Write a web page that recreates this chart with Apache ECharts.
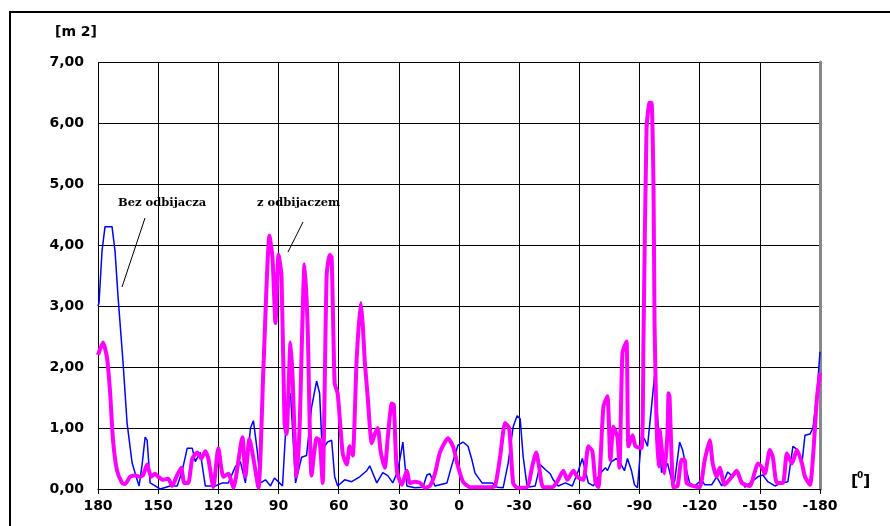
<!DOCTYPE html>
<html><head><meta charset="utf-8">
<script src="https://cdn.jsdelivr.net/npm/echarts@6/dist/echarts.min.js"></script>
<style>html,body{margin:0;padding:0;background:#fff}#c{width:890px;height:526px}</style>
</head><body><div id="c"></div>
<script>
// angle tick labels (degrees), y ticks
var xTicks = [180,150,120,90,60,30,0,-30,-60,-90,-120,-150,-180];
var yMax = 7;
// "Bez odbijacza" (blue) : angle, value
var bezAngle = [180,179.5,178,176.5,173,171.5,170,167.5,165.5,163,160.5,159.5,158,156.5,155.5,154,151.5,149,144,140.5,138,135.5,133,131.5,129,126.5,121.5,118,115,111.5,109,106.5,104,102.5,100.5,99,96.5,94,92,89.5,88,86,84,81.5,78.5,76,73.5,71,69.5,68.5,67,65.5,63.5,62,60.5,57,53.5,49.5,46,44.5,41,38,35.5,33,30.5,28,26,22,18,16,14.5,12,6,3.5,0.5,-2,-4.5,-6.5,-8,-11.5,-16.5,-19,-22,-24.5,-27,-29,-30.5,-32,-34,-38,-40.5,-43,-45.5,-47,-49.5,-53,-56.5,-59.5,-61.5,-63,-64.5,-67,-70.5,-73,-74,-76,-78.5,-80,-82.5,-84,-86,-87.5,-89,-91,-92.5,-94,-96,-97.5,-99,-101,-102,-104,-106,-107.5,-110,-111.5,-113.5,-115,-117.5,-121,-122.5,-126,-128.5,-131,-134,-136.5,-139,-142.5,-146,-149,-151.5,-154,-157.5,-161,-164,-166.5,-168.5,-171,-172.5,-175,-176.5,-178.5,-180];
var bezValue = [3.0,3.05,3.9,4.3,4.3,3.9,3.15,2.07,1.08,0.43,0.15,0.05,0.4,0.85,0.8,0.1,0.05,0.0,0.05,0.05,0.3,0.67,0.67,0.45,0.6,0.05,0.05,0.1,0.1,0.37,0.45,0.1,1.0,1.12,0.6,0.1,0.15,0.05,0.18,0.1,0.05,1.2,1.57,0.1,0.52,0.55,1.34,1.77,1.57,0.85,0.7,0.77,0.8,0.2,0.05,0.15,0.12,0.2,0.3,0.38,0.1,0.27,0.22,0.1,0.3,0.77,0.05,0.02,0.03,0.23,0.25,0.05,0.1,0.4,0.72,0.77,0.7,0.47,0.26,0.1,0.1,0.03,0.02,0.42,1.02,1.2,1.15,0.53,0.03,0.05,0.4,0.32,0.25,0.15,0.05,0.1,0.05,0.3,0.5,0.3,0.1,0.05,0.26,0.35,0.3,0.45,0.5,0.45,0.3,0.5,0.3,0.07,0.02,0.85,0.82,0.7,1.35,1.85,1.18,0.27,0.3,0.42,0.15,0.12,0.77,0.64,0.3,0.1,0.05,0.15,0.07,0.07,0.2,0.05,0.28,0.2,0.28,0.03,0.12,0.2,0.23,0.12,0.05,0.1,0.12,0.7,0.65,0.42,0.88,0.9,1.0,1.57,2.25];
// "z odbijaczem" (magenta) : angle, value
var zAngle = [180,177.5,175.5,174,172.5,170.5,168,166.5,164,161.5,159,157.5,155.5,153.5,151.5,150,147.5,145,143,140.5,138.5,137,135,133,130.5,128.5,126.5,125,122.5,120,117.5,115,112.5,108,106.5,104.5,102.5,100,97.5,94.5,93,91.5,90,88.5,87,86,84,83,81,79.5,77,75.5,73.5,71,69.5,68,66,64.5,63.5,62,60.5,58,56,54.5,53,51,49,48,47,45.5,43.5,42,40.5,39,37,35.5,33.5,32.5,31,28.5,26,24.5,22,19.5,17,14.5,12,9.5,5.5,3,0.5,-2,-5.5,-15.5,-18,-20.5,-23,-25,-27,-29,-34,-36.5,-38.5,-40,-42,-46.5,-49,-52,-54,-57,-59,-62,-64.5,-66.5,-68,-69.5,-72,-74,-75.5,-77,-79,-80,-81.5,-83.5,-84.5,-86.5,-88,-91,-92,-93.5,-95,-96,-97,-97.5,-98.5,-99.5,-100,-101.5,-102.5,-104,-104.5,-105,-106,-107,-109,-111,-112.5,-113.5,-116.5,-120,-122.5,-125,-126.5,-128.5,-130,-132.5,-136,-138.5,-141,-145,-147.5,-149,-151,-152.5,-155,-156.5,-158.5,-161.5,-163.5,-166,-168.5,-171,-172.5,-175,-176.5,-178.5,-180];
var zValue = [2.2,2.4,2.15,1.6,0.8,0.3,0.1,0.08,0.2,0.22,0.2,0.23,0.4,0.2,0.25,0.2,0.15,0.17,0.05,0.23,0.35,0.1,0.1,0.5,0.6,0.5,0.62,0.5,0.03,0.67,0.2,0.25,0.02,0.85,0.2,0.82,0.5,0.02,2.0,4.15,3.8,2.72,3.84,3.5,1.08,0.9,2.4,1.85,0.2,1.0,3.68,2.7,0.22,0.83,0.8,0.1,3.5,3.84,3.8,1.73,1.57,0.59,0.4,0.7,0.55,2.15,3.05,2.7,2.1,1.5,0.75,0.9,1.0,0.6,0.35,0.85,1.4,1.38,0.3,0.07,0.3,0.1,0.12,0.1,0.02,0.05,0.25,0.6,0.83,0.7,0.37,0.12,0.03,0.03,0.05,0.53,1.08,1.0,0.1,0.02,0.03,0.37,0.6,0.35,0.03,0.03,0.12,0.3,0.15,0.3,0.2,0.15,0.7,0.62,0.12,0.03,1.35,1.52,0.48,1.02,0.85,0.35,2.23,2.42,0.7,0.88,0.7,0.67,2.5,5.9,6.33,6.33,4.9,2.72,1.08,0.37,0.97,0.53,0.26,0.97,1.57,1.5,0.52,0.03,0.05,0.48,0.48,0.1,0.05,0.03,0.47,0.8,0.42,0.2,0.35,0.07,0.2,0.3,0.1,0.05,0.28,0.42,0.36,0.25,0.64,0.52,0.1,0.1,0.58,0.42,0.64,0.42,0.2,0.07,0.52,1.5,1.9];

function pairs(a, v){ return a.map(function(x,i){ return [x, v[i]]; }); }
var F = '"DejaVu Sans", sans-serif';
var chart = echarts.init(document.getElementById('c'), null, {renderer:'canvas'});
chart.setOption({
  animation:false,
  backgroundColor:'#fff',
  grid:{left:98, right:70, top:62, bottom:37},
  xAxis:{type:'value', inverse:true, min:-180, max:180, interval:30,
    axisLine:{show:true, onZero:false, lineStyle:{color:'#000', width:1}},
    axisTick:{show:true, length:5, lineStyle:{color:'#000'}},
    axisLabel:{margin:10, color:'#000', fontFamily:F, fontWeight:'bold', fontSize:14,
      formatter:function(v){ return xTicks.indexOf(v)>=0 ? String(v) : ''; }},
    splitLine:{show:true, lineStyle:{color:'#000', width:1}}},
  yAxis:[{type:'value', min:0, max:yMax, interval:1,
    axisLine:{show:true, lineStyle:{color:'#000', width:1}},
    axisTick:{show:true, length:5, lineStyle:{color:'#000'}},
    axisLabel:{margin:14, color:'#000', fontFamily:F, fontWeight:'bold', fontSize:14,
      formatter:function(v){ return v.toFixed(2).replace('.', ','); }},
    splitLine:{show:true, lineStyle:{color:'#000', width:1}}},
   {type:'value', position:'right', min:0, max:yMax, interval:1,
    axisLine:{show:true, lineStyle:{color:'#888', width:3}},
    axisTick:{show:false}, axisLabel:{show:false}, splitLine:{show:false}}],
  series:[
    {name:'Bez odbijacza', type:'line', data:pairs(bezAngle,bezValue), showSymbol:false,
     lineStyle:{color:'#0000ff', width:1.5}, z:2},
    {name:'z odbijaczem', type:'line', data:pairs(zAngle,zValue), showSymbol:false, smooth:0.2,
     lineStyle:{color:'#ff00ff', width:4}, z:3}
  ],
  graphic:[
    {type:'rect', shape:{x:10, y:12, width:900, height:600}, style:{fill:null, stroke:'#000', lineWidth:2}, silent:true},
    {type:'text', left:55, top:25, style:{text:'[m 2]', fontFamily:F, fontWeight:'bold', fontSize:14, fill:'#000'}},
    {type:'text', left:118, top:197, style:{text:'Bez odbijacza', fontFamily:'"DejaVu Serif", serif', fontWeight:'bold', fontSize:11.5, fill:'#000'}},
    {type:'text', left:257, top:197, style:{text:'z odbijaczem', fontFamily:'"DejaVu Serif", serif', fontWeight:'bold', fontSize:11.5, fill:'#000'}},
    {type:'line', shape:{x1:145, y1:218, x2:122, y2:287}, style:{stroke:'#000', lineWidth:1}},
    {type:'line', shape:{x1:303, y1:222, x2:288, y2:252}, style:{stroke:'#000', lineWidth:1}},
    {type:'text', left:851, top:474, style:{text:'[', fontFamily:F, fontWeight:'bold', fontSize:16, fill:'#000'}},
    {type:'text', left:857, top:471, style:{text:'0', fontFamily:F, fontWeight:'bold', fontSize:9, fill:'#000'}},
    {type:'text', left:863, top:474, style:{text:']', fontFamily:F, fontWeight:'bold', fontSize:16, fill:'#000'}}
  ]
});
</script>
</body></html>
